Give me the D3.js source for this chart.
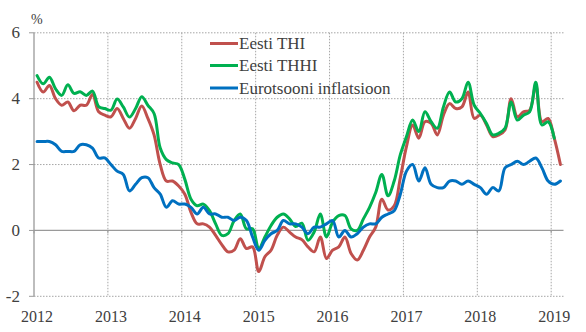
<!DOCTYPE html>
<html>
<head>
<meta charset="utf-8">
<script src="https://cdn.jsdelivr.net/npm/d3@7"></script>
<style>
  html, body { margin: 0; padding: 0; background: #fff; }
  svg { display: block; }
</style>
</head>
<body>
<svg id="chart" width="586" height="332"></svg>
<script>
// ---- Data (monthly, annual % change; Jan 2012 onward) ----
const yearLabels = ["2012", "2013", "2014", "2015", "2016", "2017", "2018", "2019"];
const yTicks = [-2, 0, 2, 4, 6];
const seriesNames = ["Eesti THI", "Eesti THHI", "Eurotsooni inflatsioon"];

// Eesti THI (CPI), Jan 2012 – Feb 2019
const eestiTHI = [
  4.5, 4.2, 4.4, 4.0, 3.8, 3.9, 3.63, 3.8, 3.8, 4.13, 3.6, 3.5,
  3.45, 3.7, 3.4, 3.1, 3.4, 3.78, 3.4, 2.9, 2.0, 1.5, 1.5, 1.35,
  1.1, 0.55, 0.2, 0.2, 0.1, -0.15, -0.43, -0.65, -0.6, -0.25, -0.55, -0.5,
  -1.25, -0.8, -0.6, -0.15, 0.1, -0.05, -0.2, -0.28, -0.5, -0.65, -0.2, -0.85,
  -0.6, -0.5, -0.2, -0.7, -0.9, -0.6, -0.2, 0.1, 0.95, 0.62, 0.75, 1.6,
  2.55, 3.2, 2.8, 3.3, 3.25, 2.9, 3.5, 3.85, 3.7, 3.75, 4.2, 3.4,
  3.5, 3.2, 2.85, 2.9, 3.05, 4.0, 3.45, 3.6, 3.65, 4.4, 3.3, 3.4,
  2.8, 2.0
];
// Eesti THHI (HICP), Jan 2012 – Jan 2019
const eestiTHHI = [
  4.7, 4.45, 4.65, 4.3, 4.1, 4.42, 4.16, 4.21, 4.1, 4.23, 3.76, 3.7,
  3.65, 3.99, 3.75, 3.44, 3.7, 4.06, 3.8, 3.55, 2.5, 2.15, 2.05, 2.0,
  1.55, 0.95, 0.75, 0.8, 0.6, 0.2, -0.15, -0.1, 0.3, 0.5, 0.05, 0.05,
  -0.55, -0.2, 0.15, 0.4, 0.5, 0.35, 0.12, 0.22, -0.3, -0.05, 0.5, -0.2,
  0.25, 0.45, 0.45, 0.05, 0.0, 0.35, 0.7, 1.15, 1.7, 1.05, 1.5, 2.3,
  2.85, 3.35, 3.0, 3.6, 3.3, 3.1, 3.75, 4.2, 3.9, 4.0, 4.5, 3.8,
  3.55, 3.25, 2.9, 2.95, 3.1, 3.9, 3.35, 3.5, 3.6, 4.5, 3.2, 3.3,
  2.8
];
// Euro area HICP inflation, Jan 2012 – Feb 2019
const euroInfl = [
  2.7, 2.7, 2.7, 2.6, 2.4, 2.4, 2.4, 2.6, 2.6, 2.5, 2.2, 2.2,
  2.0, 1.8, 1.7, 1.2, 1.4, 1.6, 1.6, 1.3, 1.1, 0.7, 0.9, 0.8,
  0.8, 0.7, 0.5, 0.7, 0.5, 0.5, 0.4, 0.4, 0.3, 0.4, 0.3, -0.2,
  -0.6, -0.3, -0.1, 0.0, 0.3, 0.2, 0.2, 0.1, -0.1, 0.1, 0.1, 0.2,
  0.3, -0.2, 0.0, -0.2, -0.1, 0.1, 0.2, 0.2, 0.4, 0.5, 0.6, 1.1,
  1.8, 2.0, 1.5, 1.9, 1.4, 1.3, 1.3, 1.5, 1.5, 1.4, 1.5, 1.4,
  1.3, 1.1, 1.3, 1.2, 1.9, 2.0, 2.1, 2.0, 2.1, 2.2, 1.9, 1.5,
  1.4, 1.5
];
const seriesColors = ["#C0504D", "#00B050", "#0070C0"];

// ---- Layout ----
const FONT = "'Liberation Serif'";
const TEXT_COLOR = "#404040";
const svg = d3.select("#chart");
const plotL = 34, plotR = 563.5, plotT = 32.8, plotB = 296.3;
const nMonths = 86;

const x = d3.scaleLinear().domain([0, nMonths]).range([plotL, plotR]);
const y = d3.scaleLinear().domain([-2, 6]).range([plotB, plotT]);

const gridColor = "#a6a6a6";

// horizontal gridlines (dotted), except zero
svg.append("g").selectAll("line").data(yTicks.filter(d => d !== 0)).join("line")
  .attr("x1", plotL).attr("x2", plotR)
  .attr("y1", d => y(d)).attr("y2", d => y(d))
  .attr("stroke", gridColor).attr("stroke-width", 1)
  .attr("stroke-dasharray", "1.5,1.5");

// vertical gridlines (dotted) at each year
svg.append("g").selectAll("line").data(yearLabels.slice(1)).join("line")
  .attr("x1", (d, i) => x((i + 1) * 12)).attr("x2", (d, i) => x((i + 1) * 12))
  .attr("y1", plotT).attr("y2", plotB)
  .attr("stroke", gridColor).attr("stroke-width", 1)
  .attr("stroke-dasharray", "1.5,1.5");

// zero line
svg.append("line")
  .attr("x1", plotL).attr("x2", plotR)
  .attr("y1", y(0)).attr("y2", y(0))
  .attr("stroke", "#9a9a9a").attr("stroke-width", 1.2);

// small ticks below zero line at years
svg.append("g").selectAll("line").data(yearLabels).join("line")
  .attr("x1", (d, i) => x(i * 12)).attr("x2", (d, i) => x(i * 12))
  .attr("y1", y(0)).attr("y2", y(0) + 3)
  .attr("stroke", "#9a9a9a").attr("stroke-width", 1);

// y axis line and ticks
svg.append("line")
  .attr("x1", plotL).attr("x2", plotL)
  .attr("y1", plotT).attr("y2", plotB)
  .attr("stroke", "#9a9a9a").attr("stroke-width", 1.3);
svg.append("g").selectAll("line").data(yTicks).join("line")
  .attr("x1", plotL - 5).attr("x2", plotL)
  .attr("y1", d => y(d)).attr("y2", d => y(d))
  .attr("stroke", "#9a9a9a").attr("stroke-width", 1);

// y tick labels
svg.append("g").selectAll("text").data(yTicks).join("text")
  .attr("x", 20).attr("y", d => y(d) + 5.5)
  .attr("text-anchor", "end")
  .style("font-family", FONT).style("font-size", "17px").attr("fill", TEXT_COLOR)
  .text(d => d);

// % unit
svg.append("text").attr("x", 31).attr("y", 24)
  .style("font-family", FONT).style("font-size", "14px").attr("fill", TEXT_COLOR)
  .text("%");

// x labels
svg.append("g").selectAll("text").data(yearLabels).join("text")
  .attr("x", (d, i) => x(i * 12) + 3)
  .attr("y", 322)
  .attr("text-anchor", "middle")
  .style("font-family", FONT).style("font-size", "16px").attr("fill", TEXT_COLOR)
  .text(d => d);

// lines
const line = d3.line()
  .x((d, i) => x(i + 0.5))
  .y(d => y(d))
  .curve(d3.curveCatmullRom.alpha(0.5));

[eestiTHI, eestiTHHI, euroInfl].forEach((s, k) => {
  svg.append("path")
    .datum(s)
    .attr("d", line)
    .attr("fill", "none")
    .attr("stroke", seriesColors[k])
    .attr("stroke-width", 3)
    .attr("stroke-linejoin", "round")
    .attr("stroke-linecap", "round");
});

// legend
const legendY = [43.5, 65.5, 88];
const lg = svg.append("g");
seriesNames.forEach((name, k) => {
  lg.append("line")
    .attr("x1", 210).attr("x2", 238)
    .attr("y1", legendY[k]).attr("y2", legendY[k])
    .attr("stroke", seriesColors[k]).attr("stroke-width", 3);
  lg.append("text")
    .attr("x", 239).attr("y", legendY[k] + 5.5)
    .style("font-family", FONT).style("font-size", "17px").attr("fill", TEXT_COLOR)
    .text(name);
});
</script>
</body>
</html>
